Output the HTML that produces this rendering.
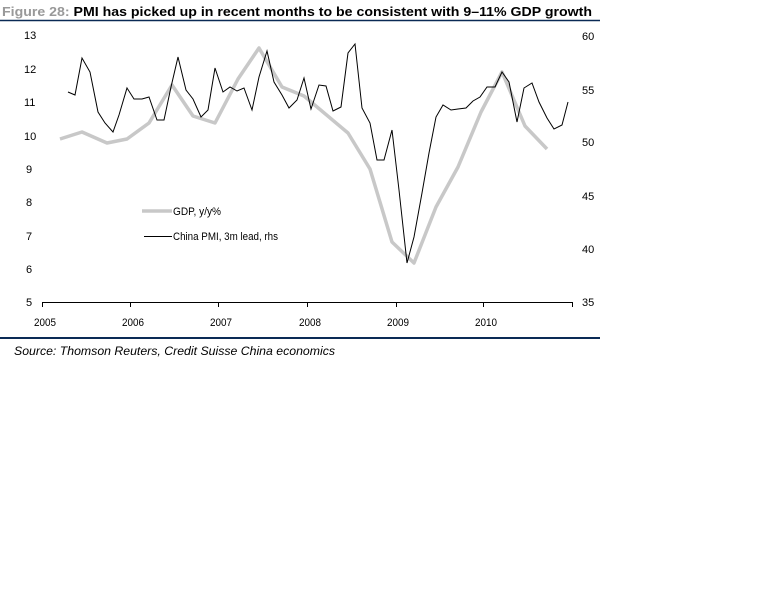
<!DOCTYPE html>
<html><head><meta charset="utf-8"><style>
body{margin:0;background:#fff;width:768px;height:614px;overflow:hidden}
svg{display:block}
</style></head><body>
<svg width="768" height="614" viewBox="0 0 768 614" font-family="Liberation Sans, Arial, sans-serif">
<text x="2" y="16" font-size="13" font-weight="bold" fill="#999" textLength="590" lengthAdjust="spacingAndGlyphs">Figure 28: <tspan fill="#000">PMI has picked up in recent months to be consistent with 9–11% GDP growth</tspan></text>
<line x1="0" y1="20.5" x2="600" y2="20.5" stroke="#0a2a55" stroke-width="1.5"/>
<g font-size="11" fill="#000">
<text x="24" y="39">13</text><text x="24" y="73">12</text><text x="24" y="106">11</text><text x="24" y="140">10</text>
<text x="26" y="173">9</text><text x="26" y="206">8</text><text x="26" y="240">7</text><text x="26" y="273">6</text><text x="26" y="306">5</text>
<text x="582" y="40">60</text><text x="582" y="94">55</text><text x="582" y="146">50</text><text x="582" y="200">45</text><text x="582" y="253">40</text><text x="582" y="306">35</text>
<text x="34" y="326" textLength="22" lengthAdjust="spacingAndGlyphs">2005</text><text x="122" y="326" textLength="22" lengthAdjust="spacingAndGlyphs">2006</text><text x="210" y="326" textLength="22" lengthAdjust="spacingAndGlyphs">2007</text><text x="299" y="326" textLength="22" lengthAdjust="spacingAndGlyphs">2008</text><text x="387" y="326" textLength="22" lengthAdjust="spacingAndGlyphs">2009</text><text x="475" y="326" textLength="22" lengthAdjust="spacingAndGlyphs">2010</text>
</g>
<g stroke="#000" stroke-width="1">
<line x1="42" y1="302.5" x2="572" y2="302.5"/>
<line x1="42.5" y1="302" x2="42.5" y2="307"/><line x1="130.5" y1="302" x2="130.5" y2="307"/><line x1="218.5" y1="302" x2="218.5" y2="307"/><line x1="307.5" y1="302" x2="307.5" y2="307"/><line x1="396.5" y1="302" x2="396.5" y2="307"/><line x1="483.5" y1="302" x2="483.5" y2="307"/><line x1="572.5" y1="302" x2="572.5" y2="307"/>
</g>
<polyline fill="none" stroke="#c8c8c8" stroke-width="3.5" stroke-linejoin="round" points="60,139 82,132 107,143 127,139 149,123 172,85 193,116 215,123 238,79 259,48 282,87 304,96 348,133 370,169 392,242 414,263 436,207 458,167 481,112 502,72 525,126 547,149"/>
<polyline fill="none" stroke="#000" stroke-width="1" points="68,92 75,95 82,58 90,72 98,112 105,123 113,132 119,115 127,88 134,99 142,99 149,97 157,120 164,120 171,87 178,57 186,90 193,99 201,117 208,110 215,68 223,92 230,87 237,91 244,88 252,110 259,77 267,51 274,82 282,95 289,108 297,100 304,78 311,109 319,85 326,86 333,111 341,107 348,53 355,44 362,108 370,123 377,160 384,160 392,130 399,190 407,263 414,237 422,193 429,153 436,117 443,105 451,110 458,109 466,108 473,101 480,97 487,87 495,87 502,72 509,82 517,122 524,88 532,83 539,102 547,118 554,129 562,125 568,102"/>
<line x1="142" y1="211" x2="172" y2="211" stroke="#c8c8c8" stroke-width="3.5"/>
<line x1="144" y1="236.5" x2="172" y2="236.5" stroke="#000" stroke-width="1"/>
<text x="173" y="215" font-size="11" textLength="48" lengthAdjust="spacingAndGlyphs">GDP, y/y%</text>
<text x="173" y="240" font-size="11" textLength="105" lengthAdjust="spacingAndGlyphs">China PMI, 3m lead, rhs</text>
<line x1="0" y1="338" x2="600" y2="338" stroke="#0a2a55" stroke-width="2"/>
<text x="14" y="355" font-size="12" font-style="italic" textLength="321" lengthAdjust="spacingAndGlyphs">Source: Thomson Reuters, Credit Suisse China economics</text>
</svg>
</body></html>
